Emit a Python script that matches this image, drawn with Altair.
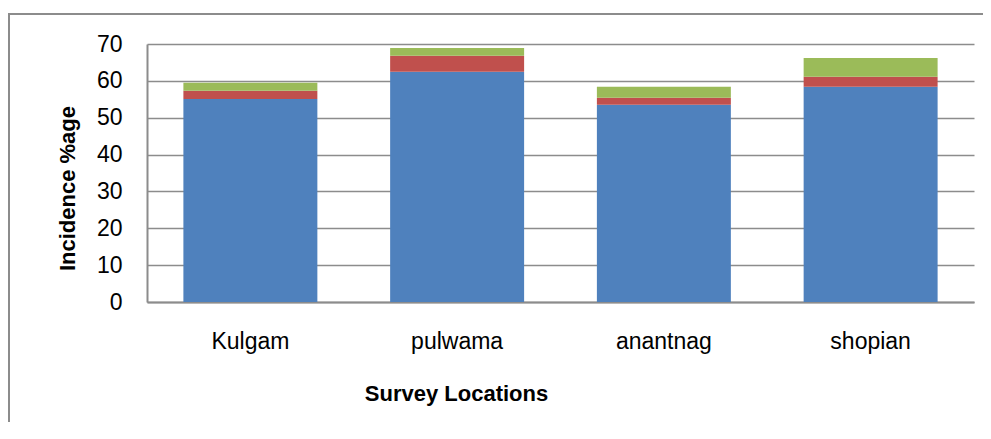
import altair as alt
import pandas as pd

locations = ["Kulgam", "pulwama", "anantnag", "shopian"]
series_names = ["Series1", "Series2", "Series3"]
blue_vals = [55.1, 62.5, 53.5, 58.4]
red_vals = [2.2, 4.3, 1.9, 2.7]
green_vals = [2.2, 2.1, 3.0, 5.1]
series_colors = ["#4F81BD", "#C0504D", "#9BBB59"]
y_ticks = [0, 10, 20, 30, 40, 50, 60, 70]

rows = []
for i, (name, vals) in enumerate(zip(series_names, [blue_vals, red_vals, green_vals])):
    for loc, v in zip(locations, vals):
        rows.append({"location": loc, "series": name, "order": i, "value": v})
df = pd.DataFrame(rows)

GRAY = "#8c8c8c"
FONT = "Liberation Sans"

bars = alt.Chart(df).mark_bar().encode(
    x=alt.X(
        "location:N",
        sort=locations,
        scale=alt.Scale(paddingInner=0.352, paddingOuter=0.176),
        axis=alt.Axis(
            title="Survey Locations",
            labelAngle=0,
            ticks=False,
            tickSize=0,
            grid=False,
            domainColor=GRAY,
            domainWidth=2,
            labelPadding=28,
            labelFont=FONT,
            labelFontSize=23,
            labelColor="#000000",
            titleFont=FONT,
            titleFontSize=22,
            titleFontWeight="bold",
            titleColor="#000000",
            titleX=309,
            titleY=91,
            titleAlign="center",
            titleBaseline="middle",
        ),
    ),
    y=alt.Y(
        "value:Q",
        stack="zero",
        scale=alt.Scale(domain=[0, 70], nice=False),
        axis=alt.Axis(
            title="Incidence %age",
            values=y_ticks,
            ticks=False,
            tickSize=0,
            grid=True,
            gridColor=GRAY,
            gridWidth=1.6,
            domainColor=GRAY,
            domainWidth=2,
            labelPadding=25,
            labelFont=FONT,
            labelFontSize=23,
            labelColor="#000000",
            titleFont=FONT,
            titleFontSize=22,
            titleFontWeight="bold",
            titleColor="#000000",
            titleAngle=270,
            titleX=-80,
            titleY=144,
            titleAlign="center",
            titleBaseline="middle",
        ),
    ),
    color=alt.Color(
        "series:N",
        scale=alt.Scale(domain=series_names, range=series_colors),
        legend=None,
    ),
    order=alt.Order("order:Q", sort="ascending"),
)

frame_df = pd.DataFrame({"k": [0]})
left_line = alt.Chart(frame_df).mark_rule(color=GRAY, strokeWidth=2).encode(
    x=alt.value(-138), y=alt.value(-30), y2=alt.value(600)
)
top_line = alt.Chart(frame_df).mark_rule(color=GRAY, strokeWidth=2).encode(
    x=alt.value(-139), x2=alt.value(1000), y=alt.value(-30)
)

chart = (
    alt.layer(bars, left_line, top_line)
    .properties(
        width=827,
        height=258,
        padding={"left": 139, "top": 36, "right": 9, "bottom": 120},
        autosize=alt.AutoSizeParams(type="none"),
        background="#ffffff",
    )
    .configure_view(stroke=None)
)

chart.save("out.html", embed_options={"renderer": "svg", "actions": False})
